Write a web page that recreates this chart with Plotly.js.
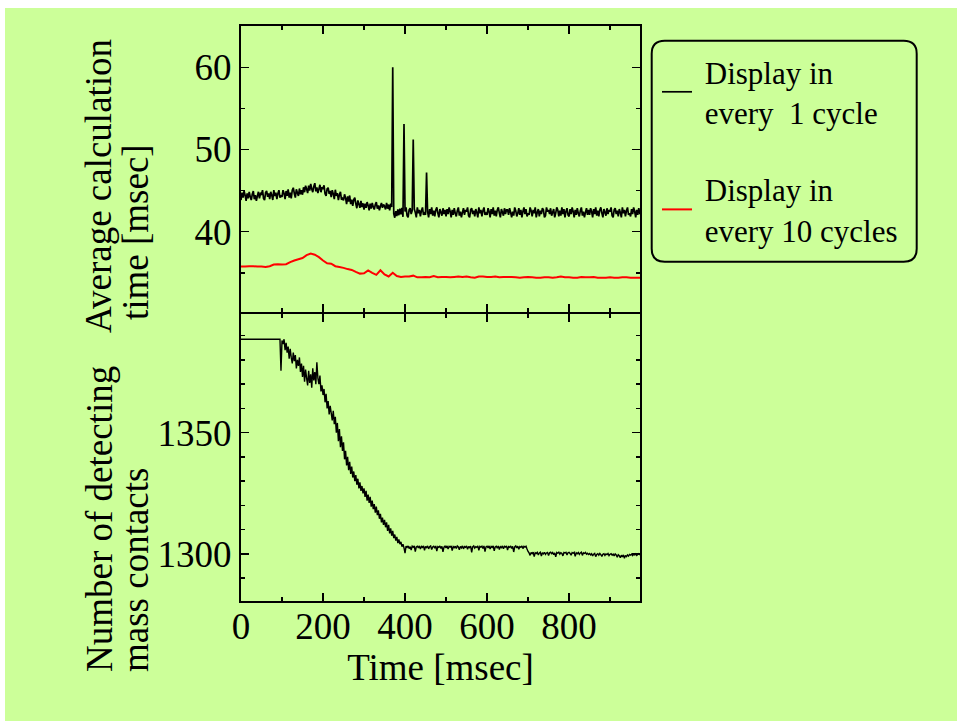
<!DOCTYPE html>
<html><head><meta charset="utf-8">
<script src="https://cdn.plot.ly/plotly-3.0.1.min.js"></script>
<style>html,body{margin:0;padding:0;background:#ffffff;} #chart{position:absolute;left:5px;top:8px;width:952px;height:713px;}</style>
</head><body><div id="chart"></div>
<script>
// ---- data (time in msec) ----
const calcStart = 0, calcEvery1Step = 2.5, calcEvery10Step = 10, contactsStep = 2.5;
const calcEvery1 = [
43.85,44.75,44.15,44.95,44.45,43.75,44.65,44.05,44.85,44.25,43.85,44.55,44.95,43.95,44.45,43.75,44.35,44.85,44.05,44.65,
44.55,45.05,44.05,43.85,44.75,44.95,44.25,44.65,43.95,44.85,44.45,43.85,45.05,44.35,44.75,43.95,44.65,45.05,44.15,44.35,
44.25,45.05,44.65,43.95,44.95,44.35,45.15,44.15,44.75,44.05,45.05,45.35,44.65,44.15,45.15,44.75,44.35,45.25,44.55,45.05,
44.5,45.4,44.8,45.6,45.2,44.7,45.6,45.0,45.8,45.2,44.8,45.5,45.9,44.9,45.4,44.7,45.2,45.7,44.8,45.4,
45.2,45.65,44.6,44.35,45.2,45.35,44.6,44.95,44.2,45.05,44.6,43.95,45.1,44.35,44.7,43.85,44.5,44.85,43.9,44.05,
43.8,44.55,44.1,43.35,44.3,43.65,44.4,43.35,43.9,43.15,43.9,44.15,43.4,42.85,43.8,43.35,42.9,43.75,43.0,43.45,
42.7,43.4,42.9,43.6,43.2,42.6,43.4,42.8,43.5,43.0,42.7,43.3,43.6,42.8,43.2,42.6,43.1,43.5,42.9,43.3,
43.1,42.7,43.5,42.8,43.3,42.6,43.4,43.0,60.0,42.2,41.7,42.5,41.9,42.7,42.0,42.8,42.1,42.9,41.8,53.1,
42.45,42.95,41.95,41.75,42.65,42.85,42.15,42.55,51.2,42.75,42.35,41.75,42.95,42.25,42.65,41.85,42.55,42.95,42.05,42.25,
42.05,47.2,42.45,41.75,42.75,42.15,42.95,41.95,42.55,41.85,42.65,42.95,42.25,41.75,42.75,42.35,41.95,42.85,42.15,42.65,
41.85,42.75,42.15,42.95,42.45,41.75,42.65,42.05,42.85,42.25,41.85,42.55,42.95,41.95,42.45,41.75,42.35,42.85,42.05,42.65,
42.45,42.95,41.95,41.75,42.65,42.85,42.15,42.55,41.85,42.75,42.35,41.75,42.95,42.25,42.65,41.85,42.55,42.95,42.05,42.25,
42.05,42.85,42.45,41.75,42.75,42.15,42.95,41.95,42.55,41.85,42.65,42.95,42.25,41.75,42.75,42.35,41.95,42.85,42.15,42.65,
42.65,42.05,42.85,42.35,41.75,42.45,41.95,42.95,42.55,41.85,42.25,42.85,42.05,42.65,41.75,42.45,42.95,42.15,42.75,41.85,
42.25,42.05,42.95,42.55,41.85,42.65,42.25,42.95,41.75,42.35,42.75,41.85,42.55,42.15,42.85,42.65,41.75,41.95,42.95,42.45,
42.65,42.15,42.85,41.95,42.35,42.75,41.75,42.25,42.95,42.65,41.85,42.55,41.95,42.95,42.15,42.75,41.75,42.45,42.85,42.05,
41.85,42.75,42.15,42.95,42.45,41.75,42.65,42.05,42.85,42.25,41.85,42.55,42.95,41.95,42.45,41.75,42.35,42.85,42.05,42.65,
42.05,42.85,42.45,41.75,42.75,42.15,42.95,41.95,42.55,41.85,42.65,42.95,42.25,41.75,42.75,42.35,41.95,42.85,42.15,42.65,
42.45,42.95,41.95,41.75,42.65,42.85,42.15,42.55,41.85,42.75,42.35,41.75,42.95,42.25,42.65,41.85,42.55,42.95,42.05,42.25,
41.85,42.75,42.15,42.95,42.45,41.75,42.65,42.05,42.85,42.25,42.35];
const calcEvery10 = [
35.75,35.75,35.8,35.8,35.75,35.75,35.7,35.8,36.0,36.05,
36.0,36.05,36.3,36.5,36.65,36.8,37.15,37.35,37.2,36.9,
36.5,36.15,36.1,35.8,35.7,35.6,35.45,35.35,35.1,34.9,
34.95,35.3,35.0,34.75,35.3,34.8,34.55,35.0,34.6,34.5,
34.55,34.55,34.65,34.45,34.45,34.5,34.45,34.6,34.45,34.5,
34.5,34.45,34.5,34.55,34.5,34.55,34.45,34.4,34.55,34.55,
34.5,34.5,34.55,34.45,34.5,34.5,34.5,34.45,34.4,34.45,
34.5,34.45,34.4,34.4,34.45,34.45,34.4,34.45,34.55,34.45,
34.45,34.4,34.4,34.5,34.45,34.45,34.5,34.4,34.4,34.4,
34.45,34.4,34.4,34.45,34.45,34.4,34.4,34.4,34.4];
const contacts = [
1388.5,1388.5,1388.5,1388.5,1388.5,1388.5,1388.5,1388.5,1388.5,1388.5,1388.5,1388.5,1388.5,1388.5,1388.5,1388.5,1388.5,1388.5,1388.5,1388.5,
1388.5,1388.5,1388.5,1388.5,1388.5,1388.5,1388.5,1388.5,1388.5,1388.5,1388.5,1388.5,1388.5,1388.5,1388.5,1388.5,1388.5,1388.5,1388.5,1375.5,
1388.0,1386.5,1388.5,1384.0,1387.0,1383.0,1385.5,1380.5,1384.5,1381.0,1378.5,1383.0,1379.5,1382.0,1376.5,1380.0,1377.5,1381.0,1375.0,1378.5,
1373.0,1377.5,1371.0,1376.0,1372.5,1369.5,1375.5,1370.5,1374.0,1368.5,1376.5,1371.5,1375.0,1370.0,1379.0,1372.5,1370.0,1373.5,1367.0,1369.5,
1365.5,1368.0,1362.5,1366.0,1360.0,1363.0,1357.5,1361.0,1358.0,1355.0,1359.0,1353.5,1356.5,1350.0,1354.0,1346.5,1351.5,1344.0,1348.5,1342.5,
1346.0,1339.0,1342.5,1336.5,1340.0,1334.5,1338.0,1333.0,1336.0,1331.5,1334.0,1330.0,1332.5,1328.5,1331.0,1327.0,1329.5,1326.0,1328.0,1325.0,
1327.0,1323.5,1326.0,1322.0,1324.5,1321.0,1323.5,1319.5,1322.0,1318.5,1320.5,1317.0,1319.5,1316.0,1318.0,1314.5,1316.5,1313.0,1315.0,1312.0,
1314.0,1311.0,1313.0,1309.5,1312.0,1308.5,1310.5,1307.5,1309.5,1306.5,1308.0,1305.5,1307.0,1304.5,1306.0,1304.0,1305.0,1303.0,1304.0,1302.5,
1300.3,1303.2,1302.7,1303.3,1302.2,1303.0,1301.6,1303.2,1302.8,1303.3,1301.0,1302.9,1303.2,1302.5,1303.3,1302.0,1303.1,1302.7,1303.3,1301.5,
1303.1,1302.6,1303.3,1302.1,1303.0,1303.3,1301.8,1302.9,1303.2,1302.4,1303.3,1301.2,1303.0,1302.7,1303.3,1302.3,1303.1,1300.9,1302.8,1303.2,
1302.5,1303.3,1302.0,1303.1,1302.8,1303.3,1301.4,1303.0,1302.6,1303.2,1302.2,1303.3,1302.9,1301.7,1303.1,1302.5,1303.3,1302.1,1303.0,1302.7,
1303.3,1301.9,1303.1,1302.6,1303.2,1300.6,1302.9,1303.3,1302.4,1303.0,1302.7,1303.3,1301.5,1303.1,1302.8,1303.2,1302.2,1303.3,1301.0,1302.9,
1303.2,1302.5,1303.3,1302.0,1303.1,1302.7,1303.3,1301.3,1302.9,1303.2,1302.4,1303.3,1301.8,1303.0,1302.6,1303.3,1302.1,1303.1,1302.8,1303.3,
1301.6,1303.0,1302.7,1303.3,1302.3,1303.1,1300.8,1302.9,1303.3,1302.5,1303.2,1301.9,1303.0,1302.7,1303.3,1302.2,1303.1,1302.8,1303.2,1302.0,
1301.0,1300.4,1299.4,1300.6,1300.1,1300.7,1298.9,1300.5,1300.2,1300.7,1299.6,1300.4,1300.7,1299.1,1300.5,1300.0,1300.7,1299.8,1300.4,1300.6,
1299.3,1300.5,1300.7,1300.1,1300.6,1299.7,1300.4,1298.8,1300.6,1300.3,1300.7,1299.9,1300.5,1300.2,1299.2,1300.6,1300.4,1300.7,1299.6,1300.5,
1300.7,1300.2,1299.5,1300.6,1300.3,1300.7,1299.0,1300.5,1300.1,1300.6,1299.8,1300.4,1300.7,1299.4,1300.5,1300.2,1300.6,1299.9,1300.3,1299.8,
1300.2,1299.6,1300.1,1299.2,1299.9,1300.2,1298.9,1299.8,1300.1,1299.5,1300.2,1299.7,1299.0,1299.9,1300.1,1299.4,1300.0,1299.7,1300.2,1299.3,
1299.9,1300.1,1299.5,1299.9,1299.2,1300.0,1299.6,1298.6,1299.7,1299.3,1298.4,1299.5,1298.8,1299.6,1298.2,1299.4,1298.9,1299.6,1299.1,1299.8,
1299.5,1299.9,1299.3,1299.8,1299.6,1300.0,1299.4,1299.8,1300.1,1299.7,1300.0];
const timeTicks = [0, 200, 400, 600, 800];
const calcTicks = [40, 50, 60];
const contactTicks = [1300, 1350];
const seriesNames = ['\u00a0Display in<br>\u00a0every\u00a0\u00a01 cycle', '\u00a0Display in<br>\u00a0every 10 cycles'];
const axisTitles = {x: 'Time [msec]', top: ['Average calculation', 'time [msec]'], bottom: ['Number of detecting', 'mass contacts']};

// ---- layout helpers ----
const W = 952, H = 713, ML = 236, MR = 317, MT = 18, MB = 120;
const PW = W - ML - MR, PH = H - MT - MB;
const fx = px => (px - ML) / PW;
const fy = py => (H - MB - py) / PH;
const FONT = '"Liberation Serif", "Times New Roman", serif';
const BG = '#ccff99';
const FS = 37;

function roundRect(x0, y0, x1, y1, r) {
  const P = (x, y) => fx(x) + ',' + fy(y);
  return 'M' + P(x0 + r, y0) + ' L' + P(x1 - r, y0) + ' Q' + P(x1, y0) + ' ' + P(x1, y0 + r) +
    ' L' + P(x1, y1 - r) + ' Q' + P(x1, y1) + ' ' + P(x1 - r, y1) +
    ' L' + P(x0 + r, y1) + ' Q' + P(x0, y1) + ' ' + P(x0, y1 - r) +
    ' L' + P(x0, y0 + r) + ' Q' + P(x0, y0) + ' ' + P(x0 + r, y0) + ' Z';
}

const traces = [
  {type: 'scatter', mode: 'lines', x0: calcStart, dx: calcEvery1Step, y: calcEvery1, xaxis: 'x2', yaxis: 'y2',
   name: seriesNames[0], legendgroup: 'a', line: {color: '#000000', width: 1.7, simplify: false}},
  {type: 'scatter', mode: 'lines', x0: calcStart, dx: calcEvery10Step, y: calcEvery10, xaxis: 'x2', yaxis: 'y2',
   name: seriesNames[1], legendgroup: 'b', line: {color: '#ff0000', width: 2, simplify: false}},
  {type: 'scatter', mode: 'lines', x0: calcStart, dx: contactsStep, y: contacts, xaxis: 'x', yaxis: 'y',
   showlegend: false, line: {color: '#000000', width: 1.4, simplify: false}}
];

const minorStyle = {ticklen: 4, tickwidth: 1.5, tickcolor: '#000', ticks: 'inside', tickmode: 'linear'};
const axCommon = {
  showline: true, linecolor: '#000', linewidth: 2, mirror: 'allticks',
  ticks: 'inside', ticklen: 8, tickwidth: 1.5, tickcolor: '#000',
  showgrid: false, zeroline: false, tickfont: {family: FONT, size: FS, color: '#000'}
};

const layout = {
  width: W, height: H,
  margin: {l: ML, r: MR, t: MT, b: MB, pad: 0},
  paper_bgcolor: BG, plot_bgcolor: BG,
  font: {family: FONT, color: '#000'},
  showlegend: true,
  legend: {x: fx(652), y: fy(37), xanchor: 'left', yanchor: 'top', bgcolor: 'rgba(0,0,0,0)', borderwidth: 0,
           font: {family: FONT, size: 31, color: '#000'}, traceorder: 'grouped', tracegroupgap: 34},
  xaxis: Object.assign({}, axCommon, {domain: [0, 1], anchor: 'y', range: [0, 973],
           tickmode: 'array', tickvals: timeTicks, ticktext: timeTicks.map(String), ticklabelstandoff: -8,
           minor: Object.assign({tick0: 0, dtick: 100}, minorStyle),
           title: {text: axisTitles.x, font: {family: FONT, size: FS, color: '#000'}, standoff: 6}}),
  xaxis2: Object.assign({}, axCommon, {domain: [0, 1], anchor: 'y2', matches: 'x', showticklabels: false,
           tickmode: 'array', tickvals: timeTicks,
           minor: Object.assign({tick0: 0, dtick: 100}, minorStyle)}),
  yaxis: Object.assign({}, axCommon, {domain: [0, 287 / 575], anchor: 'x', range: [1280.6, 1398.9],
           tickmode: 'array', tickvals: contactTicks, ticktext: contactTicks.map(String),
           minor: Object.assign({tick0: 1300, dtick: 10}, minorStyle)}),
  yaxis2: Object.assign({}, axCommon, {domain: [289 / 575, 1], anchor: 'x2', range: [30.23, 65.02],
           tickmode: 'array', tickvals: calcTicks, ticktext: calcTicks.map(String),
           minor: Object.assign({tick0: 30, dtick: 5}, minorStyle)}),
  shapes: [
    {type: 'path', xref: 'paper', yref: 'paper', path: roundRect(646.7, 32.7, 911.7, 253.7, 13),
     line: {color: '#000', width: 2}, fillcolor: 'rgba(0,0,0,0)'}
  ],
  annotations: [
    {text: axisTitles.top[0], x: fx(94), y: fy(327), xref: 'paper', yref: 'paper', xanchor: 'center', yanchor: 'bottom', textangle: -90, showarrow: false, font: {family: FONT, size: FS, color: '#000'}},
    {text: axisTitles.top[1], x: fx(130), y: fy(314), xref: 'paper', yref: 'paper', xanchor: 'center', yanchor: 'bottom', textangle: -90, showarrow: false, font: {family: FONT, size: FS, color: '#000'}},
    {text: axisTitles.bottom[0], x: fx(94), y: fy(666), xref: 'paper', yref: 'paper', xanchor: 'center', yanchor: 'bottom', textangle: -90, showarrow: false, font: {family: FONT, size: FS, color: '#000'}},
    {text: axisTitles.bottom[1], x: fx(130), y: fy(666), xref: 'paper', yref: 'paper', xanchor: 'center', yanchor: 'bottom', textangle: -90, showarrow: false, font: {family: FONT, size: FS, color: '#000'}}
  ]
};

Plotly.newPlot('chart', traces, layout, {displayModeBar: false, staticPlot: true});
</script></body></html>
